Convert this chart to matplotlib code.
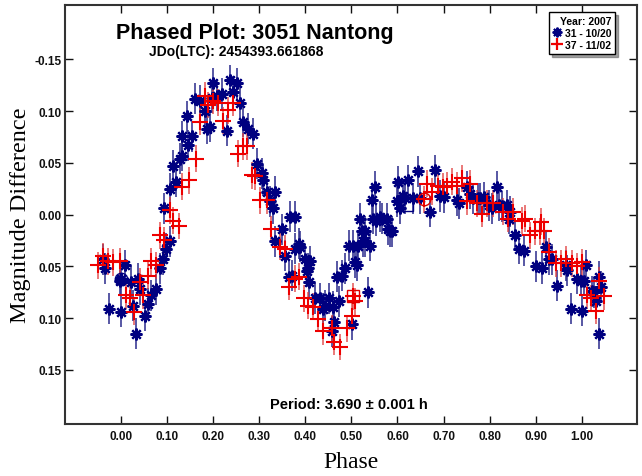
import matplotlib
matplotlib.use("Agg")
import matplotlib.pyplot as plt
from matplotlib.lines import Line2D

# session 31 - 10/20 (navy asterisks)
phase_31 = [-0.039, -0.033, -0.026, -0.002, 0.000, 0.009, 0.000, 0.022, 0.026, 0.033,
            0.037, 0.043, 0.052, 0.059, 0.065, 0.076, 0.085, 0.091, 0.098, 0.108,
            0.095, 0.106, 0.113, 0.121, 0.128, 0.132, 0.145, 0.134, 0.154, 0.143,
            0.161, 0.171, 0.182, 0.187, 0.193, 0.200, 0.208, 0.198, 0.219, 0.230,
            0.236, 0.243, 0.252, 0.258, 0.265, 0.275, 0.286, 0.295, 0.306, 0.308,
            0.317, 0.323, 0.334, 0.330, 0.349, 0.367, 0.377, 0.334, 0.356, 0.377,
            0.386, 0.399, 0.410, 0.371, 0.364, 0.403, 0.408, 0.421, 0.432, 0.443,
            0.451, 0.458, 0.462, 0.469, 0.479, 0.486, 0.495, 0.473, 0.388, 0.406,
            0.438, 0.460, 0.508, 0.514, 0.525, 0.523, 0.518, 0.536, 0.547, 0.562,
            0.577, 0.583, 0.544, 0.501, 0.503, 0.512, 0.529, 0.529, 0.540, 0.551,
            0.553, 0.579, 0.588, 0.599, 0.601, 0.605, 0.612, 0.616, 0.623, 0.633,
            0.644, 0.670, 0.681, 0.566, 0.649, 0.692, 0.701, 0.733, 0.729, 0.751,
            0.757, 0.779, 0.787, 0.798, 0.805, 0.816, 0.820, 0.837, 0.842, 0.855,
            0.863, 0.874, 0.900, 0.913, 0.922, 0.928, 0.935, 0.946, 0.965, 0.967,
            0.976, 0.989, 0.998, 1.004, 1.009, 1.000, 1.022, 1.026, 1.030, 1.037,
            1.041, 1.037, 0.764, 0.774, 0.826, 0.844]
mag_31 = [0.043, 0.052, 0.091, 0.064, 0.062, 0.049, 0.094, 0.065, 0.088, 0.115,
          0.062, 0.072, 0.098, 0.086, 0.078, 0.072, 0.052, 0.043, 0.033, 0.026,
          -0.006, -0.025, -0.047, -0.032, -0.054, -0.057, -0.067, -0.076, -0.076, -0.095,
          -0.112, -0.110, -0.100, -0.083, -0.085, -0.127, -0.115, -0.113, -0.117, -0.081,
          -0.130, -0.119, -0.127, -0.108, -0.090, -0.083, -0.078, -0.049, -0.040, -0.033,
          -0.022, -0.013, -0.022, -0.006, 0.014, 0.002, 0.002, 0.026, 0.040, 0.033,
          0.028, 0.043, 0.045, 0.059, 0.060, 0.055, 0.065, 0.081, 0.081, 0.088,
          0.081, 0.113, 0.104, 0.060, 0.059, 0.052, 0.030, 0.084, 0.031, 0.052,
          0.091, 0.089, 0.046, 0.030, 0.026, 0.016, 0.004, 0.075, 0.004, 0.002,
          0.004, 0.016, -0.014, 0.106, 0.030, 0.049, 0.016, 0.026, 0.030, -0.027,
          0.006, 0.014, 0.016, -0.013, -0.032, -0.006, -0.018, -0.016, -0.033, -0.016,
          -0.042, -0.003, -0.043, 0.004, -0.016, -0.018, -0.017, -0.011, -0.014, -0.027,
          -0.020, -0.016, -0.017, -0.009, -0.006, -0.027, -0.009, -0.009, 0.004, 0.020,
          0.033, 0.035, 0.050, 0.052, 0.031, 0.043, 0.043, 0.069, 0.049, 0.054,
          0.091, 0.062, 0.064, 0.064, 0.049, 0.093, 0.074, 0.075, 0.084, 0.060,
          0.070, 0.115, -0.016, -0.016, -0.008, -0.003]

# session 37 - 11/02 (red crosses)
phase_37 = [-0.050, -0.039, -0.028, -0.017, -0.002, 0.011, 0.020, 0.030, 0.041, 0.048,
            0.059, 0.065, 0.076, 0.085, 0.095, 0.106, 0.113, 0.126, 0.134, 0.148,
            0.163, 0.171, 0.182, 0.189, 0.200, 0.210, 0.221, 0.232, 0.243, 0.254,
            0.265, 0.273, 0.284, 0.291, 0.302, 0.317, 0.325, 0.345, 0.356, 0.364,
            0.377, 0.386, 0.397, 0.406, 0.416, 0.427, 0.438, 0.458, 0.462, 0.475,
            0.490, 0.501, 0.508, 0.664, 0.675, 0.688, 0.698, 0.707, 0.718, 0.729,
            0.740, 0.757, 0.751, 0.772, 0.783, 0.794, 0.807, 0.829, 0.839, 0.850,
            0.870, 0.876, 0.887, 0.898, 0.909, 0.911, 0.918, 0.928, 0.944, 0.954,
            0.965, 0.978, 0.989, 1.000, 1.011, 1.020, 1.030, 1.037, 1.048, 0.657,
            0.503]
mag_37 = [0.049, 0.040, 0.045, 0.046, 0.045, 0.078, 0.081, 0.094, 0.065, 0.078,
          0.059, 0.045, 0.049, 0.020, 0.025, -0.004, 0.006, 0.011, -0.027, -0.033,
          -0.054, -0.090, -0.115, -0.106, -0.110, -0.108, -0.091, -0.101, -0.108, -0.059,
          -0.066, -0.066, -0.038, -0.037, -0.014, -0.014, 0.014, 0.031, 0.033, 0.070,
          0.062, 0.060, 0.081, 0.088, 0.089, 0.101, 0.113, 0.110, 0.123, 0.128,
          0.110, 0.098, 0.084, -0.030, -0.022, -0.028, -0.027, -0.028, -0.032, -0.028,
          -0.035, -0.030, -0.013, -0.011, -0.001, -0.011, -0.011, -0.003, 0.004, -0.003,
          0.006, 0.004, 0.020, 0.016, 0.016, 0.007, 0.016, 0.036, 0.047, 0.047,
          0.043, 0.047, 0.050, 0.046, 0.078, 0.081, 0.093, 0.064, 0.079, -0.015,
          0.079]

err_31 = 0.015
err_37 = 0.013

# flagged points drawn with open symbols
flag_circle_phase = [0.000, 0.657]
flag_circle_mag = [0.062, -0.015]
flag_circle_color = ["#000080", "#e00000"]
flag_square_phase = [0.503, 0.620]
flag_square_mag = [0.079, -0.009]
flag_square_color = ["#e00000", "#000080"]

xticks = [0.0, 0.1, 0.2, 0.3, 0.4, 0.5, 0.6, 0.7, 0.8, 0.9, 1.0]
yticks = [-0.15, -0.10, -0.05, 0.0, 0.05, 0.10, 0.15]
ytick_labels = ["-0.15", "0.10", "0.05", "0.00", "0.05", "0.10", "0.15"]

sans = ["Liberation Sans", "DejaVu Sans"]
serif = ["Liberation Serif", "DejaVu Serif"]
star = (8, 2, 0)

fig = plt.figure(figsize=(6.42, 4.77), dpi=100, facecolor="white")
ax = fig.add_axes([0.101, 0.109, 0.891, 0.878])

ax.errorbar(phase_31, mag_31, yerr=err_31, fmt="none", ecolor="#2b2b8c",
            elinewidth=1.3, alpha=0.85, zorder=2)
ax.errorbar(phase_37, mag_37, yerr=err_37, fmt="none", ecolor="#e03a3a",
            elinewidth=1.2, alpha=0.8, zorder=3)
ax.plot(phase_31, mag_31, ls="none", marker=star, ms=8.5, mew=1.6,
        color="#000080", zorder=4)
ax.plot(phase_37, mag_37, ls="none", marker="+", ms=11, mew=1.5,
        color="#ee0000", zorder=5)
for p, m, c in zip(flag_circle_phase, flag_circle_mag, flag_circle_color):
    ax.plot(p, m, ls="none", marker="o", ms=9, mfc="none", mec=c, mew=1.0, zorder=6)
for p, m, c in zip(flag_square_phase, flag_square_mag, flag_square_color):
    ax.plot(p, m, ls="none", marker="s", ms=9, mfc="none", mec=c, mew=1.0, zorder=6)

ax.set_xlim(-0.121, 1.119)
ax.set_ylim(0.2025, -0.2025)

ax.set_xticks(xticks)
ax.set_xticklabels(["%.2f" % v for v in xticks])
ax.set_yticks(yticks)
ax.set_yticklabels(ytick_labels)
ax.tick_params(direction="in", length=6, width=1, top=True, right=True,
               labelsize=8.5, colors="#111111")
ax.tick_params(axis="x", pad=4)
ax.tick_params(axis="y", pad=2)
for lab in ax.get_xticklabels() + ax.get_yticklabels():
    lab.set_fontweight("bold")
    lab.set_family(sans)
for s in ax.spines.values():
    s.set_linewidth(1.5)
    s.set_color("#333333")

ax.set_xlabel("Phase", family=serif, fontsize=17, labelpad=7)
ax.set_ylabel("Magnitude Difference", family=serif, fontsize=17.5, labelpad=3)

fig.text(0.397, 0.930, "Phased Plot: 3051 Nantong", family=sans, fontsize=15.5,
         fontweight="bold", ha="center", va="center")
fig.text(0.368, 0.890, "JDo(LTC): 2454393.661868", family=sans, fontsize=10,
         fontweight="bold", ha="center", va="center")
fig.text(0.543, 0.151, "Period: 3.690 \u00b1 0.001 h", family=sans, fontsize=10.5,
         fontweight="bold", ha="center", va="center")

handles = [
    Line2D([], [], ls="none", marker=star, ms=7, mew=1.4, color="#000080"),
    Line2D([], [], ls="none", marker="+", ms=9, mew=1.6, color="#ee0000"),
]
leg = ax.legend(handles, ["31 - 10/20", "37 - 11/02"], title="Year: 2007",
                loc="upper right", bbox_to_anchor=(0.962, 0.983),
                prop={"family": sans, "weight": "bold", "size": 7.5},
                title_fontproperties={"family": sans, "weight": "bold", "size": 7.5},
                frameon=True, fancybox=False, shadow=True, edgecolor="black",
                handlelength=0.8, handletextpad=0.4, borderpad=0.35,
                labelspacing=0.2, borderaxespad=0)
leg._legend_box.align = "right"
leg.get_frame().set_linewidth(1.0)

fig.savefig("out.png", dpi=100, facecolor="white")
